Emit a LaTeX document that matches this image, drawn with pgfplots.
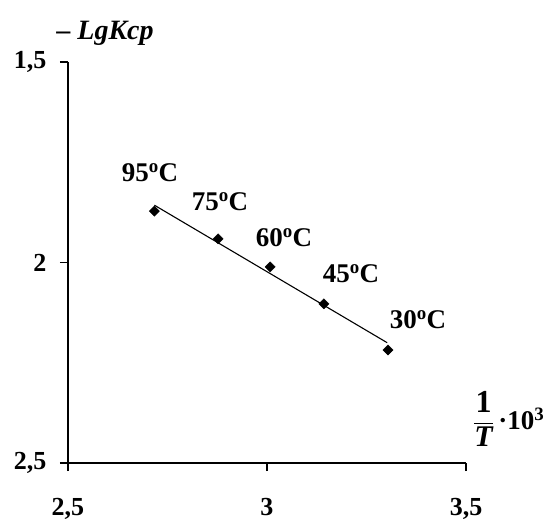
\documentclass[border=0pt]{standalone}
\usepackage{fontspec}
\setmainfont{Liberation Serif}
\usepackage{pgfplots}
\pgfplotsset{compat=1.18}
\begin{document}
\begin{tikzpicture}
\useasboundingbox (-68pt,-60pt) rectangle (479pt,463pt);
\begin{axis}[
  at={(0pt,0pt)}, anchor=south west,
  scale only axis, width=398pt, height=401pt,
  xmin=2.5, xmax=3.5, ymin=1.5, ymax=2.5,
  y dir=reverse,
  axis x line*=bottom, axis y line*=left,
  axis line style={line width=1.5pt, -},
  xtick={2.5,3,3.5}, ytick={1.5,2,2.5},
  tick align=outside, major tick length=8pt,
  tick style={black, line width=1.5pt},
  /pgf/number format/use comma,
  /pgf/number format/assume math mode=true,
  ticklabel style={font=\bfseries\fontsize{26}{26}\selectfont},
  xticklabel style={yshift=-24pt},
  yticklabel style={xshift=-10pt},
  clip=false,
]
\addplot[only marks, mark=square*, mark size=3.6pt, mark options={rotate=45}, black] coordinates {
  (2.717,1.872) (2.877,1.941) (3.008,2.011) (3.143,2.103) (3.304,2.218)
};
\addplot[black, line width=1.1pt] coordinates {(2.717,1.857) (3.302,2.200)};
\end{axis}
\begin{scope}[every node/.style={font=\bfseries\fontsize{27}{27}\selectfont, inner sep=0pt}]
\node at (82pt,290pt) {95\textsuperscript{o}C};
\node at (152pt,261pt) {75\textsuperscript{o}C};
\node at (216pt,225pt) {60\textsuperscript{o}C};
\node at (283pt,189pt) {45\textsuperscript{o}C};
\node at (350pt,143pt) {30\textsuperscript{o}C};
\end{scope}
\node[font=\bfseries\fontsize{28}{28}\selectfont, inner sep=0pt] at (37pt,430pt) {\textendash\ \textit{LgKcp}};
\node[font=\bfseries\fontsize{27}{27}\selectfont, inner sep=0pt, anchor=west] at (405pt,44pt)
  {$\displaystyle\frac{\mbox{\bfseries\fontsize{32}{32}\selectfont 1}}{\mbox{\bfseries\itshape\fontsize{30}{30}\selectfont T}}$\,·10\textsuperscript{3}};
\end{tikzpicture}
\end{document}
